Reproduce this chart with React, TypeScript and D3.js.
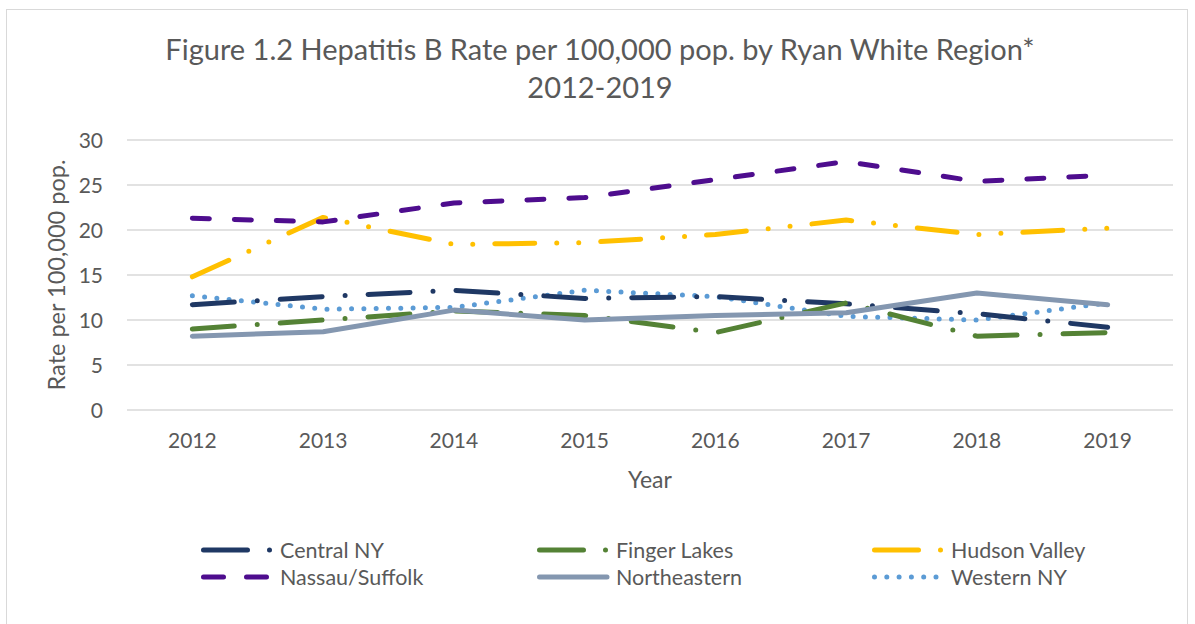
import React from "react";
import * as d3 from "d3";

const years = ["2012", "2013", "2014", "2015", "2016", "2017", "2018", "2019"];
const yTicks = [0, 5, 10, 15, 20, 25, 30];

const centralNY = [11.7, 12.6, 13.3, 12.4, 12.6, 11.8, 10.7, 9.2];
const fingerLakes = [9.0, 10.0, 11.0, 10.5, 8.6, 11.9, 8.2, 8.6];
const hudsonValley = [14.8, 21.4, 18.4, 18.6, 19.5, 21.1, 19.5, 20.2];
const nassauSuffolk = [21.3, 20.9, 23.0, 23.6, 25.6, 27.6, 25.4, 26.1];
const northeastern = [8.2, 8.7, 11.1, 10.0, 10.5, 10.8, 13.0, 11.7];
const westernNY = [12.7, 11.2, 11.4, 13.3, 12.6, 10.4, 10.0, 11.9];

const series = [
  { name: "Central NY", values: centralNY, color: "#1F3864", dash: "42 23 0 23" },
  { name: "Finger Lakes", values: fingerLakes, color: "#548235", dash: "42 23 0 23" },
  { name: "Hudson Valley", values: hudsonValley, color: "#FFC000", dash: "40 22 0 22 0 22" },
  { name: "Nassau/Suffolk", values: nassauSuffolk, color: "#4E0D8E", dash: "17 25" },
  { name: "Northeastern", values: northeastern, color: "#8497B0", dash: "" },
  { name: "Western NY", values: westernNY, color: "#5B9BD5", dash: "0 12.3" },
];

const W = 1195;
const H = 624;
const FONT = "Lato, 'Open Sans', sans-serif";
const TXT = "#595959";

export default function App() {
  const x = d3.scaleBand<string>().domain(years).range([127, 1173]);
  const y = d3.scaleLinear().domain([0, 30]).range([410, 140]);
  const line = d3
    .line<number>()
    .x((_, i) => (x(years[i]) as number) + x.bandwidth() / 2)
    .y((d) => y(d));

  const legendCols = [201, 537, 872];
  const legendRows = [550, 577];

  const drawOrder = [5, 0, 1, 2, 3, 4];

  return (
    <svg
      width={W}
      height={H}
      style={{ position: "absolute", left: 0, top: 0, background: "#fff" }}
    >
      <rect x={0} y={0} width={W} height={H} fill="#fff" />
      <rect x={6.5} y={9.5} width={1181} height={640} fill="#fff" stroke="#D9D9D9" strokeWidth={1} />
      <text x={600} y={60} textAnchor="middle" fontFamily={FONT} fontSize={29} fill={TXT}>
        Figure 1.2 Hepatitis B Rate per 100,000 pop. by Ryan White Region*
      </text>
      <text x={600} y={98} textAnchor="middle" fontFamily={FONT} fontSize={29} fill={TXT}>
        2012-2019
      </text>
      {yTicks.map((t) => (
        <g key={t}>
          <line x1={127} x2={1173} y1={y(t)} y2={y(t)} stroke="#D9D9D9" strokeWidth={1.5} />
          <text x={103} y={y(t) + 7.5} textAnchor="end" fontFamily={FONT} fontSize={21} fill={TXT}>
            {t}
          </text>
        </g>
      ))}
      {years.map((yr) => (
        <text
          key={yr}
          x={(x(yr) as number) + x.bandwidth() / 2}
          y={448}
          textAnchor="middle"
          fontFamily={FONT}
          fontSize={21}
          fill={TXT}
        >
          {yr}
        </text>
      ))}
      <text
        transform={`translate(65,275) rotate(-90)`}
        textAnchor="middle"
        fontFamily={FONT}
        fontSize={23.5}
        fill={TXT}
      >
        Rate per 100,000 pop.
      </text>
      <text x={650} y={488} textAnchor="middle" fontFamily={FONT} fontSize={23} fill={TXT}>
        Year
      </text>
      {drawOrder.map((i) => {
        const s = series[i];
        return (
          <path
            key={s.name}
            d={line(s.values) as string}
            fill="none"
            stroke={s.color}
            strokeWidth={5}
            strokeLinecap="round"
            strokeLinejoin="round"
            strokeDasharray={s.dash || undefined}
          />
        );
      })}
      {series.map((s, i) => {
        const cx = legendCols[i % 3];
        const cy = legendRows[Math.floor(i / 3)];
        return (
          <g key={s.name}>
            <line
              x1={cx + 2.5}
              x2={cx + 70}
              y1={cy}
              y2={cy}
              stroke={s.color}
              strokeWidth={5}
              strokeLinecap="round"
              strokeDasharray={
                s.name === "Nassau/Suffolk"
                  ? "20 23"
                  : s.name === "Western NY"
                  ? "0 12.3"
                  : s.name === "Northeastern"
                  ? undefined
                  : "44 22 0 100"
              }
            />
            <text x={cx + 79} y={cy + 7.5} fontFamily={FONT} fontSize={21.5} fill={TXT}>
              {s.name}
            </text>
          </g>
        );
      })}
    </svg>
  );
}
